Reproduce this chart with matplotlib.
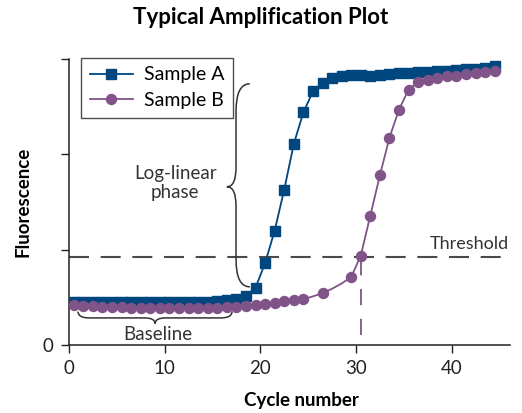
import numpy as np
import matplotlib
matplotlib.use("Agg")
import matplotlib.pyplot as plt
from matplotlib.path import Path
from matplotlib.patches import PathPatch

plt.rcParams['font.family'] = ['Lato', 'DejaVu Sans']

# ---- data ----
cycles = np.arange(1, 46)
sample_a = [0.45, 0.45, 0.45, 0.45, 0.45, 0.45, 0.45, 0.45, 0.45, 0.45,
            0.45, 0.45, 0.45, 0.45, 0.45, 0.46, 0.47, 0.48, 0.51, 0.60,
            0.86, 1.20, 1.63, 2.11, 2.44, 2.66, 2.75, 2.80, 2.82, 2.83,
            2.83, 2.82, 2.83, 2.84, 2.85, 2.85, 2.86, 2.86, 2.87, 2.87,
            2.88, 2.89, 2.90, 2.91, 2.93]
sample_b = [0.42, 0.41, 0.41, 0.40, 0.40, 0.40, 0.39, 0.39, 0.39, 0.39,
            0.39, 0.39, 0.39, 0.39, 0.39, 0.39, 0.40, 0.40, 0.41, 0.42,
            0.43, 0.44, 0.46, 0.47, 0.48, 0.51, 0.544, 0.59, 0.645, 0.713,
            0.937, 1.358, 1.78, 2.175, 2.47, 2.68, 2.76, 2.78, 2.80, 2.82,
            2.825, 2.84, 2.85, 2.86, 2.87]
# cycles where Sample B has no marker drawn in the reference
b_hidden_markers = [26, 28, 29]
threshold = 0.92
ct_b = 30.5
x_ticks = [0, 10, 20, 30, 40]
y_ticks = [0, 1, 2, 3]
y_tick_labels = ['0', '', '', '']

col_a = '#00467f'
col_b = '#805488'
col_txt = '#333333'

fig = plt.figure(figsize=(5.22, 4.13), dpi=100)
ax = fig.add_axes([69/522, 68/413, 441/522, 286/413])
ax.set_xlim(0, 46.1)
ax.set_ylim(0, 3.0)

xa = cycles - 0.5
ax.plot(xa, sample_a, color=col_a, lw=1.3, marker='s', ms=7.0,
        mec=col_a, mfc=col_a, label='Sample A', zorder=3)
b_marks = [i for i, c in enumerate(cycles) if c not in b_hidden_markers]
ax.plot(xa, sample_b, color=col_b, lw=1.3, marker='o', ms=7.2,
        mec=col_b, mfc=col_b, markevery=b_marks, label='Sample B', zorder=4)

# threshold
ax.axhline(threshold, color='#4a4a4a', lw=1.5, ls=(0, (9.6, 5.6)), zorder=2)
ax.text(46.0, threshold + 0.06, 'Threshold', ha='right', va='bottom',
        fontsize=13, color=col_txt)
# Ct line
ax.plot([ct_b, ct_b], [0.105, threshold], color=col_b, lw=1.3,
        ls=(0, (9.0, 7.5)), zorder=2)

# braces
def brace(verts, codes):
    ax.add_patch(PathPatch(Path(verts, codes), fc='none', ec=col_txt,
                           lw=1.1, zorder=2))

M, L, C = Path.MOVETO, Path.LINETO, Path.CURVE3
# log-linear (vertical) brace
bx, bp = 17.46, 16.5
v = [(18.9, 2.74), (bx, 2.74), (bx, 2.45), (bx, 1.86),
     (bx, 1.66), (bp, 1.66), (bx, 1.66), (bx, 1.46),
     (bx, 0.90), (bx, 0.61), (18.9, 0.61)]
c = [M, C, C, L, C, C, C, C, L, C, C]
brace(v, c)
# baseline (horizontal) brace
yl, ye, yp = 0.284, 0.35, 0.225
v = [(0.94, ye), (0.94, yl), (2.1, yl), (7.9, yl),
     (9.0, yl), (9.0, yp), (9.0, yl), (10.1, yl),
     (15.9, yl), (17.04, yl), (17.04, ye)]
brace(v, c)

ax.text(11.1, 1.70, 'Log-linear\nphase', ha='center', va='center',
        fontsize=13.5, color=col_txt, linespacing=1.1)
ax.text(9.3, 0.105, 'Baseline', ha='center', va='center',
        fontsize=13.5, color=col_txt)

# axes styling
for s in ['top', 'right']:
    ax.spines[s].set_visible(False)
for s in ['left', 'bottom']:
    ax.spines[s].set_linewidth(1.1)
    ax.spines[s].set_color('#222222')
ax.set_xticks(x_ticks)
ax.set_yticks(y_ticks)
ax.set_yticklabels(y_tick_labels)
ax.tick_params(axis='both', direction='out', length=6, width=1.0,
               labelsize=13.5, pad=5, colors='#222222')

ax.set_xlabel('Cycle number', fontsize=13.5, fontweight='bold')
ax.xaxis.set_label_coords(0.528, -0.165)
ax.set_ylabel('Fluorescence', fontsize=13.5, fontweight='bold')
ax.yaxis.set_label_coords(-0.085, 0.5)

fig.text(0.5, 1 - 18/413, 'Typical Amplification Plot', ha='center',
         va='center', fontsize=16, fontweight='bold')

leg = ax.legend(loc='upper left', bbox_to_anchor=(12/441, 1.005),
                fontsize=14, frameon=True, fancybox=False,
                edgecolor='#222222', handlelength=2.2, borderpad=0.45,
                labelspacing=0.45, handletextpad=0.6, borderaxespad=0)
leg.get_frame().set_linewidth(1.0)

fig.savefig('out.png', dpi=100)
